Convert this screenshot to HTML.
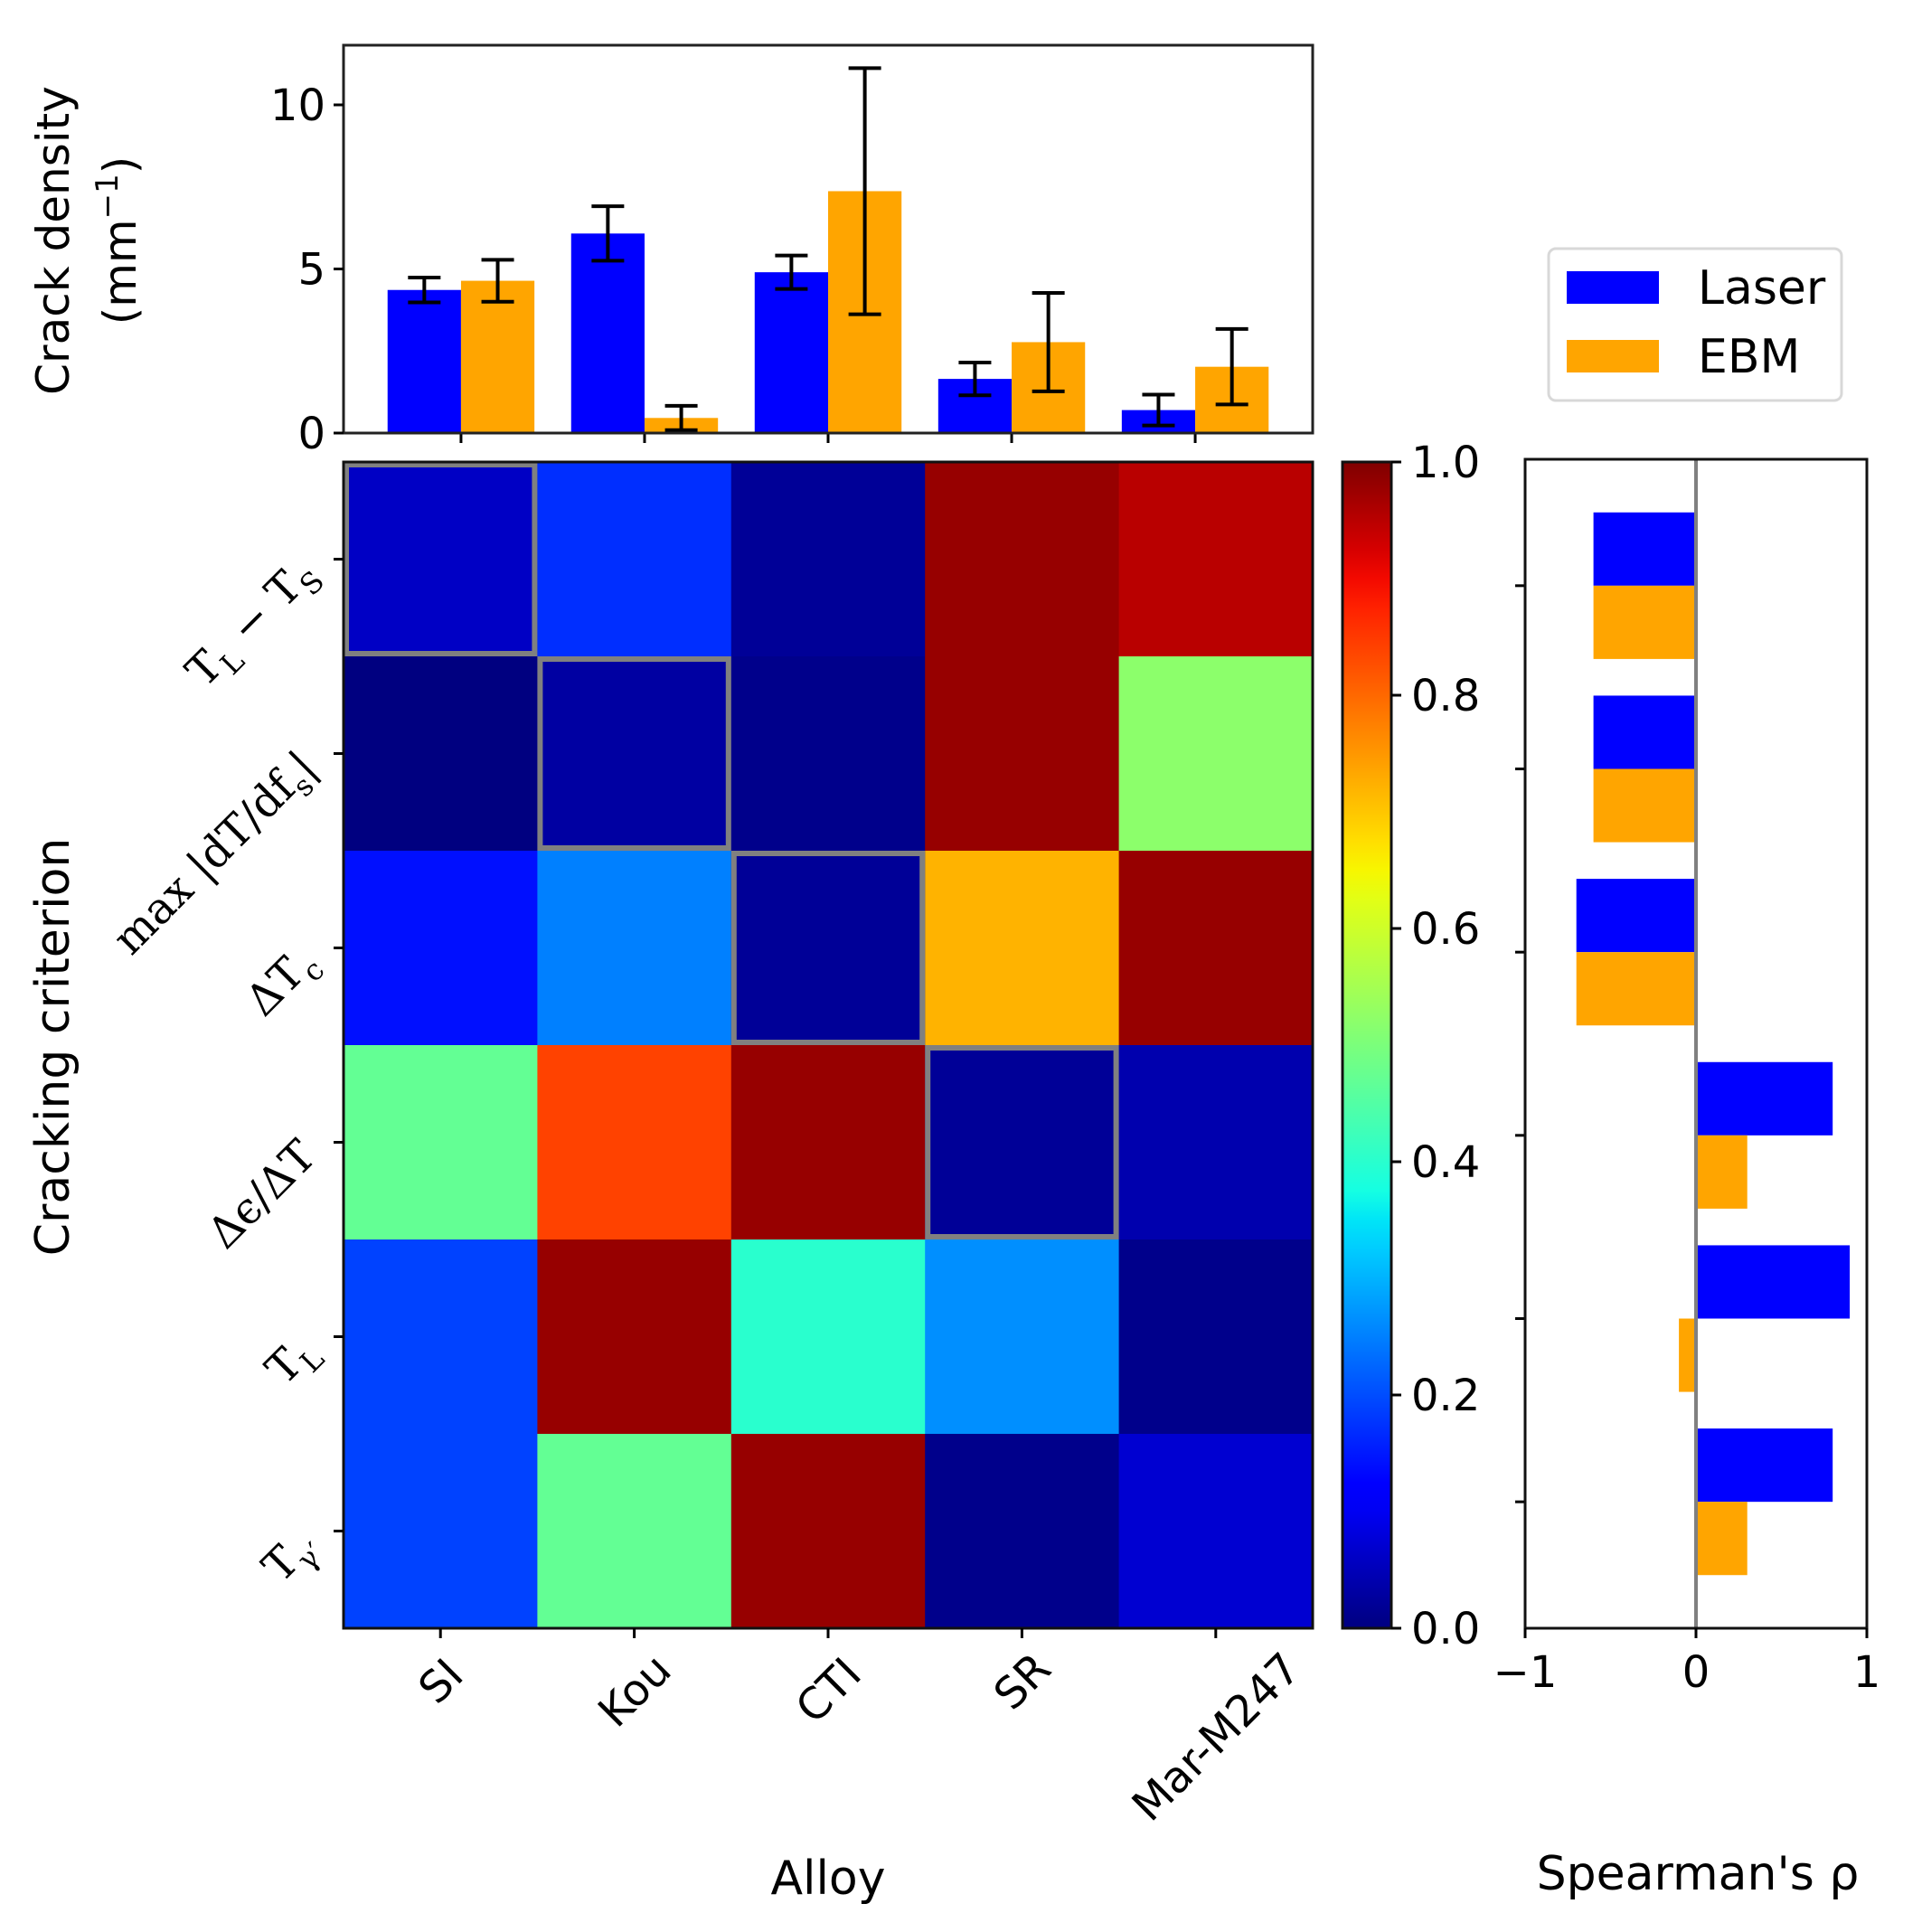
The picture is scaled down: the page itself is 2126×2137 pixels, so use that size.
<!DOCTYPE html>
<html><head><meta charset="utf-8"><style>
html,body{margin:0;padding:0;background:#fff;}
svg{display:block;}
text{font-family:"DejaVu Sans","Liberation Sans",sans-serif;fill:#000;}
.m{font-family:"DejaVu Serif","Liberation Serif",serif;}
</style></head><body>
<svg id="fig" width="2126" height="2137" viewBox="0 0 2126 2137" xmlns="http://www.w3.org/2000/svg">
<g id="topbars"></g>
<g id="heat"></g>
<g id="cbar"></g>
<g id="spear"></g>
<g id="legend"></g>
</svg>
<script>
const alloys = ["SI","Kou","CTI","SR","Mar-M247"];
const laserDensity = [4.36, 6.08, 4.9, 1.65, 0.70];
const laserErr = [0.38, 0.83, 0.51, 0.5, 0.47];
const ebmDensity = [4.64, 0.46, 7.37, 2.77, 2.02];
const ebmErr = [0.64, 0.37, 3.75, 1.5, 1.15];
const densityTicks = [0, 5, 10];
const criteria = ["TL-TS","maxdT","dTc","de-dT","TL","Tg"];
const heatValues = [
 [0.06, 0.17, 0.02, 0.98, 0.95],
 [0.00, 0.03, 0.01, 0.98, 0.52],
 [0.14, 0.25, 0.02, 0.72, 0.98],
 [0.47, 0.84, 0.98, 0.02, 0.04],
 [0.19, 0.98, 0.40, 0.265, 0.01],
 [0.19, 0.47, 0.98, 0.01, 0.07]
];
const highlightCells = [[0,0],[1,1],[2,2],[3,3]];
const cbarTicks = [0, 0.2, 0.4, 0.6, 0.8, 1.0];
const spearLaser = [-0.6, -0.6, -0.7, 0.8, 0.9, 0.8];
const spearEbm = [-0.6, -0.6, -0.7, 0.3, -0.1, 0.3];
const spearTicks = [-1, 0, 1];

(function(){
const NS="http://www.w3.org/2000/svg";
function el(parent,tag,attrs,text){const e=document.createElementNS(NS,tag);for(const k in attrs)e.setAttribute(k,attrs[k]);if(text!==undefined)e.textContent=text;parent.appendChild(e);return e;}
const BLUE="#0000ff", ORANGE="#ffa500";

// ---- top bar chart ----
const T={l:380,r:1452,t:50,b:479};
const tx=v=>T.l+(v+0.64)*(T.r-T.l)/5.28;
const ty=v=>T.b-v*36.3;
const topG=document.getElementById('topbars');
function bar(g,x,y,w,h,fill,name){const r=el(g,'rect',{x:x,y:y,width:w,height:h,fill:fill});
 
 
 return r;}
function errbar(g,cx,v,e,name){const gg=el(g,'g',{stroke:'#000','stroke-width':4});
 
 
 el(gg,'line',{x1:cx,x2:cx,y1:ty(v+e),y2:ty(v-e)});el(gg,'line',{x1:cx-18,x2:cx+18,y1:ty(v+e),y2:ty(v+e)});el(gg,'line',{x1:cx-18,x2:cx+18,y1:ty(v-e),y2:ty(v-e)});}
alloys.forEach((a,i)=>{
 const w=tx(0.4)-tx(0);
 bar(topG,tx(i-0.4),ty(laserDensity[i]),w,ty(0)-ty(laserDensity[i]),BLUE,'laser-bar-'+a);
 bar(topG,tx(i),ty(ebmDensity[i]),w,ty(0)-ty(ebmDensity[i]),ORANGE,'ebm-bar-'+a);
 errbar(topG,tx(i-0.2),laserDensity[i],laserErr[i],'laser-error-'+a);
 errbar(topG,tx(i+0.2),ebmDensity[i],ebmErr[i],'ebm-error-'+a);
 el(topG,'line',{x1:tx(i),x2:tx(i),y1:T.b,y2:T.b+11,stroke:'#000','stroke-width':3});
});
el(topG,'rect',{x:T.l,y:T.t,width:T.r-T.l,height:T.b-T.t,fill:'none',stroke:'#222','stroke-width':3});
densityTicks.forEach(v=>{el(topG,'line',{x1:T.l-11,x2:T.l,y1:ty(v),y2:ty(v),stroke:'#000','stroke-width':3});
 const t=el(topG,'text',{x:T.l-20,y:ty(v)+17,'font-size':48,'text-anchor':'end'},String(v));
 
 });
const yt=el(topG,'text',{transform:'translate(76,266) rotate(-90)','font-size':50,'text-anchor':'middle'},'Crack density');


const yt2=el(topG,'text',{transform:'translate(150,266) rotate(-90)','font-size':50,'text-anchor':'middle'});


el(yt2,'tspan',{},'(mm');el(yt2,'tspan',{dy:-20,'font-size':34},'−1');el(yt2,'tspan',{dy:20},')');

// ---- heatmap ----
const H={l:380,r:1452,t:511,b:1801};
const cw=(H.r-H.l)/alloys.length, ch=(H.b-H.t)/criteria.length;
const JR=[[0,0],[0.35,0],[0.66,1],[0.89,1],[1,0.5]];
const JG=[[0,0],[0.125,0],[0.375,1],[0.64,1],[0.91,0],[1,0]];
const JB=[[0,0.5],[0.11,1],[0.34,1],[0.65,0],[1,0]];
function interp(pts,x){for(let i=1;i<pts.length;i++){if(x<=pts[i][0]){const [x0,y0]=pts[i-1],[x1,y1]=pts[i];return y0+(y1-y0)*(x-x0)/(x1-x0);}}return pts[pts.length-1][1];}
function jet(v){v=Math.max(0,Math.min(1,v));const c=x=>Math.round(255*x);return `rgb(${c(interp(JR,v))},${c(interp(JG,v))},${c(interp(JB,v))})`;}
const heat=document.getElementById('heat');
heatValues.forEach((row,r)=>row.forEach((v,c)=>{const e=el(heat,'rect',{x:H.l+c*cw,y:H.t+r*ch,width:cw+0.5,height:ch+0.5,fill:jet(v)});
 
 }));
highlightCells.forEach(([r,c])=>{const e=el(heat,'rect',{x:H.l+c*cw+3,y:H.t+r*ch+3,width:cw-6,height:ch-6,fill:'none',stroke:'#808080','stroke-width':6});
 
 });
el(heat,'rect',{x:H.l,y:H.t,width:H.r-H.l,height:H.b-H.t,fill:'none',stroke:'#111','stroke-width':3});
alloys.forEach((a,i)=>{const cx=H.l+(i+0.5)*cw;el(heat,'line',{x1:cx,x2:cx,y1:H.b,y2:H.b+11,stroke:'#000','stroke-width':3});
 const t=el(heat,'text',{'font-size':48,'text-anchor':'middle',dy:17},a);
 
 
 const w=a.length*29; const cy=1826+(w+36)*0.354;
 t.setAttribute('transform',`translate(${cx},${cy}) rotate(-45)`);});
const xl=el(heat,'text',{x:916,y:2095,'font-size':52,'text-anchor':'middle'},'Alloy');


const yl=el(heat,'text',{transform:'translate(76,1158) rotate(-90)','font-size':52,'text-anchor':'middle'},'Cracking criterion');


const ylabels=[
 [['T',0],['L',1],[' − T',0],['S',1]],
 [['max |dT/df',0],['s',1],['|',0]],
 [['ΔT',0],['c',1]],
 [['Δϵ/ΔT',0]],
 [['T',0],['L',1]],
 [['T',0],['γ′',1]]
];
ylabels.forEach((parts,r)=>{const cy=H.t+(r+0.5)*ch;el(heat,'line',{x1:H.l-11,x2:H.l,y1:cy,y2:cy,stroke:'#000','stroke-width':3});
 const t=el(heat,'text',{class:'m','font-size':48,'text-anchor':'end'});
 
 
 let prev=0;parts.forEach(([s,sub])=>{el(t,'tspan',{dy:(sub-prev)*12,'font-size':sub?32:48},s);prev=sub;});
 t.setAttribute('transform',`translate(352,${cy+18}) rotate(-45)`);});

// ---- colorbar ----
const C={l:1485,r:1539,t:511,b:1801};
const cb=document.getElementById('cbar');
const defs=el(cb,'defs',{});const lg=el(defs,'linearGradient',{id:'jetg',x1:0,y1:1,x2:0,y2:0});
for(let i=0;i<=40;i++)el(lg,'stop',{offset:i/40,'stop-color':jet(i/40)});
el(cb,'rect',{x:C.l,y:C.t,width:C.r-C.l,height:C.b-C.t,fill:'url(#jetg)',stroke:'#111','stroke-width':3});
cbarTicks.forEach(v=>{const y=C.b-v*(C.b-C.t);el(cb,'line',{x1:C.r,x2:C.r+11,y1:y,y2:y,stroke:'#000','stroke-width':3});
 const t=el(cb,'text',{x:C.r+22,y:y+17,'font-size':48},v.toFixed(1));
 
 });

// ---- spearman ----
const S={l:1687,r:2065,t:508,b:1801};
const sx=v=>S.l+(v+1)*(S.r-S.l)/2;
const sy=k=>S.t+(k+0.69)*(S.b-S.t)/6.38;
const sp=document.getElementById('spear');
criteria.forEach((c,k)=>{const h=sy(0.4)-sy(0);
 const a=spearLaser[k],b=spearEbm[k];
 bar(sp,Math.min(sx(0),sx(a)),sy(k)-h,Math.abs(sx(a)-sx(0)),h,BLUE,'spearman-laser-'+c);
 bar(sp,Math.min(sx(0),sx(b)),sy(k),Math.abs(sx(b)-sx(0)),h,ORANGE,'spearman-ebm-'+c);
 el(sp,'line',{x1:S.l-11,x2:S.l,y1:sy(k),y2:sy(k),stroke:'#000','stroke-width':3});});
el(sp,'line',{x1:sx(0),x2:sx(0),y1:S.t,y2:S.b,stroke:'#808080','stroke-width':4});
el(sp,'rect',{x:S.l,y:S.t,width:S.r-S.l,height:S.b-S.t,fill:'none',stroke:'#111','stroke-width':3});
spearTicks.forEach(v=>{el(sp,'line',{x1:sx(v),x2:sx(v),y1:S.b,y2:S.b+11,stroke:'#000','stroke-width':3});
 const t=el(sp,'text',{x:sx(v),y:1866,'font-size':48,'text-anchor':'middle'},v<0?'−'+Math.abs(v):String(v));
 
 });
const st=el(sp,'text',{x:1878,y:2090,'font-size':52,'text-anchor':'middle'},"Spearman's ρ");



// ---- legend ----
const L=document.getElementById('legend');
el(L,'rect',{x:1713,y:275,width:324,height:168,rx:8,fill:'#fff',stroke:'#d8d8d8','stroke-width':3});
[[BLUE,'Laser',300],[ORANGE,'EBM',376]].forEach(([col,lab,y])=>{
 const r=el(L,'rect',{x:1733,y:y,width:102,height:36,fill:col});
 
 
 const t=el(L,'text',{x:1878,y:y+36,'font-size':52},lab);
 
 });
})();
</script>
</body></html>
